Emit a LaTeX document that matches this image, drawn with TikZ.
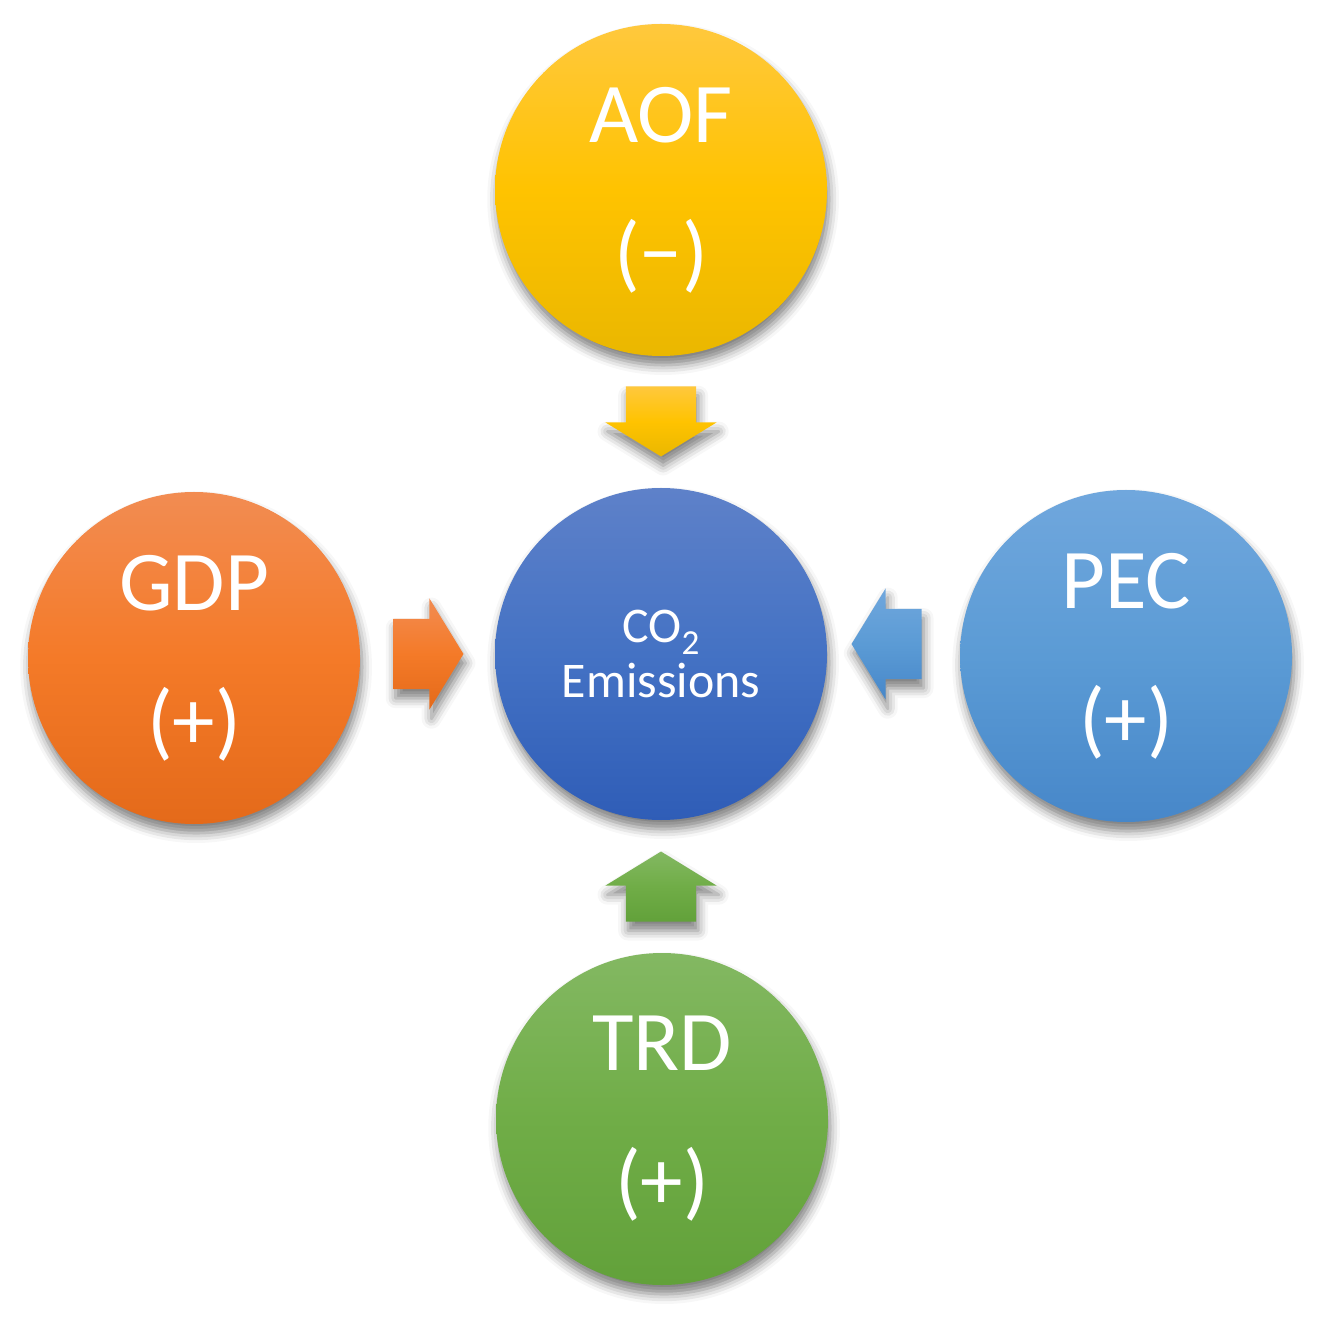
\documentclass[tikz,border=0pt]{standalone}
\usepackage{fontspec}
\setmainfont{Carlito}
\usetikzlibrary{shapes.arrows,shadows.blur,calc}
\definecolor{aofTop}{HTML}{FFC83D}\definecolor{aofMid}{HTML}{FFC300}\definecolor{aofBot}{HTML}{EAB700}
\definecolor{gdpTop}{HTML}{F28C52}\definecolor{gdpMid}{HTML}{F47A28}\definecolor{gdpBot}{HTML}{E46A1A}
\definecolor{coTop}{HTML}{5E81C9}\definecolor{coMid}{HTML}{4472C4}\definecolor{coBot}{HTML}{2F5DB7}
\definecolor{pecTop}{HTML}{70A7DD}\definecolor{pecMid}{HTML}{5B9BD5}\definecolor{pecBot}{HTML}{4787C9}
\definecolor{trdTop}{HTML}{83B862}\definecolor{trdMid}{HTML}{70AD47}\definecolor{trdBot}{HTML}{62A13A}
\newcommand{\lowtwo}{\raisebox{-3.4pt}{\fontsize{10}{10}\selectfont 2}}
\begin{document}
\begin{tikzpicture}[
		softshadow/.style={blur shadow={shadow xshift=0.6pt,shadow yshift=-2.6pt,shadow blur radius=2.8pt,shadow opacity=50}},
		factor/.style={circle,minimum size=3.32cm,inner sep=0pt,text=white,align=center,
			font=\fontsize{24.2}{39.5}\selectfont,softshadow},
		push/.style={single arrow,inner xsep=0pt,inner ysep=0.345cm,minimum height=0.70cm,
			single arrow head extend=0.205cm,single arrow tip angle=117,softshadow},
		tint/.style n args={3}{top color=#1,bottom color=#3,middle color=#2}]
	\useasboundingbox (0,0) rectangle (13.26,13.19);
	% circles
	\node[factor,tint={coTop}{coMid}{coBot},font=\fontsize{14.2}{15.8}\selectfont] (co2) at (6.61,6.65) {CO\lowtwo\\Emissions};
	\node[factor,tint={aofTop}{aofMid}{aofBot}] (aof) at (6.61,11.29) {AOF\\(−)};
	\node[factor,tint={gdpTop}{gdpMid}{gdpBot}] (gdp) at (1.94,6.61) {GDP\\(+)};
	\node[factor,tint={pecTop}{pecMid}{pecBot}] (pec) at (11.26,6.63) {PEC\\(+)};
	\node[factor,tint={trdTop}{trdMid}{trdBot}] (trd) at (6.62,2.00) {TRD\\(+)};
	% block arrows
	\node[push,rotate=-90,anchor=tip,tint={aofTop}{aofMid}{aofBot}] (aofpush) at ($(co2.north)+(0,0.30)$) {};
	\node[push,anchor=tip,tint={gdpTop}{gdpMid}{gdpBot}] (gdppush) at ($(co2.west)+(-0.30,0)$) {};
	\node[push,rotate=180,anchor=tip,tint={pecTop}{pecMid}{pecBot}] (pecpush) at ($(co2.east)+(0.23,0.10)$) {};
	\node[push,rotate=90,anchor=tip,tint={trdTop}{trdMid}{trdBot}] (trdpush) at ($(co2.south)+(0,-0.30)$) {};
\end{tikzpicture}
\end{document}
